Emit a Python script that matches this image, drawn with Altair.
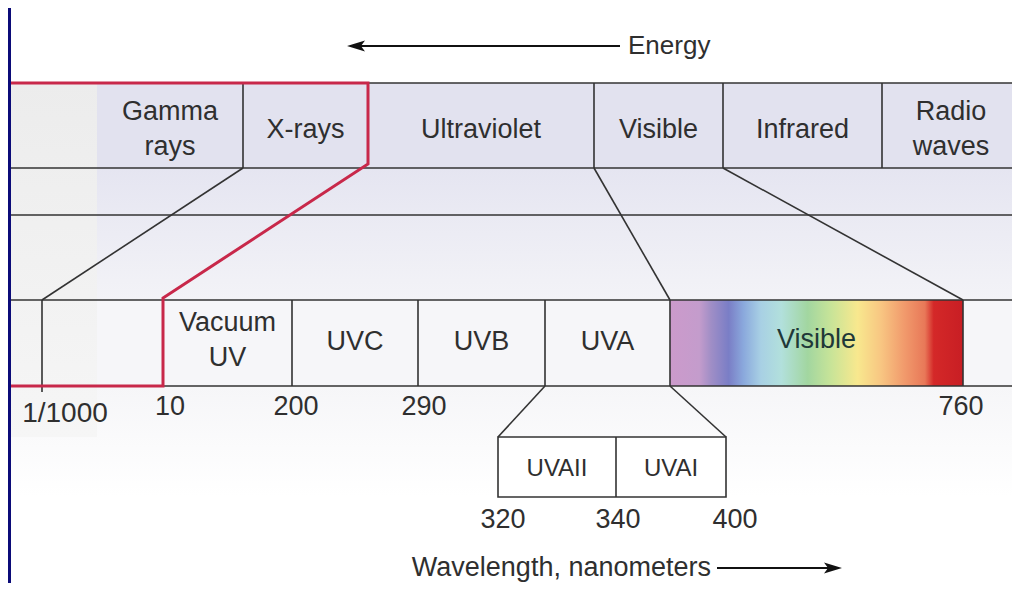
import altair as alt
import pandas as pd

FONT = "Liberation Sans"
INK = "#2f2f2f"
RED = "#c8284a"
LH = 35

# ---- Electromagnetic spectrum (top band), ordered by decreasing energy ----
em_labels = ["Gamma\nrays", "X-rays", "Ultraviolet", "Visible", "Infrared", "Radio\nwaves"]
em_edges = [97, 243, 368, 594, 723, 882, 1020]

# ---- Ultraviolet detail (middle band) ----
uv_labels = ["Vacuum\nUV", "UVC", "UVB", "UVA", "Visible"]
uv_edges = [163, 292, 418, 545, 670, 963]
uv_tick_labels = ["1/1000", "10", "200", "290", "760"]
uv_tick_edges = [42, 163, 292, 418, 963]
uv_tick_label_x = [65, 170, 296, 424, 961]

# ---- UVA detail (lower box) ----
uva_labels = ["UVAII", "UVAI"]
uva_edges = [498, 616, 726]
uva_tick_labels = ["320", "340", "400"]
uva_tick_label_x = [503, 618, 735]

# ---- visible spectrum colour stops ----
spec_offsets = [0.0, 0.10, 0.14, 0.20, 0.25, 0.31, 0.38, 0.47, 0.55, 0.64, 0.72, 0.80, 0.87, 0.90, 1.0]
spec_colors = ["#cc9acb", "#c49ccc", "#a08ec6", "#7a7ec6", "#8aa8dc", "#a8d0e4", "#b2e0dc",
               "#a2d6a0", "#c8e498", "#f8e88e", "#f8c682", "#f19a6c", "#e87858", "#d42828", "#c81e24"]

# ---- rows of the diagram (downwards) ----
LEFT, RIGHT = 11, 1020
EM_TOP, EM_BOT = 83, 168
REF_Y = 215
UV_TOP, UV_BOT = 300, 386
UVA_TOP, UVA_BOT = 437, 497
ENERGY_Y = 46
WAVE_Y = 568

W, H = 1004, 575
xs = alt.Scale(domain=[8, 8 + W], nice=False, zero=False)
ys = alt.Scale(domain=[8, 8 + H], nice=False, zero=False, reverse=True)


def X(f="x"):
    return alt.X(f, type="quantitative", scale=xs, axis=None)


def Y(f="y"):
    return alt.Y(f, type="quantitative", scale=ys, axis=None)


def rect(df, fill, **kw):
    return alt.Chart(df).mark_rect(fill=fill, **kw).encode(
        x=X("x"), x2="x2", y=Y("y"), y2="y2")


def vgrad(c1, c2):
    return alt.Gradient(gradient="linear", x1=0, y1=0, x2=0, y2=1,
                        stops=[alt.GradientStop(color=c1, offset=0),
                               alt.GradientStop(color=c2, offset=1)])


layers = []
# blue page stripe
layers.append(rect(pd.DataFrame([dict(x=8, x2=LEFT, y=8, y2=8 + H)]), "#0b0b78"))
# band backgrounds
layers.append(rect(pd.DataFrame([dict(x=em_edges[0], x2=RIGHT, y=EM_TOP, y2=EM_BOT)]), "#e2e2ef"))
layers.append(rect(pd.DataFrame([dict(x=em_edges[0], x2=RIGHT, y=EM_BOT, y2=UV_TOP)]),
                   vgrad("#e5e5f1", "#f3f3f7")))
layers.append(rect(pd.DataFrame([dict(x=em_edges[0], x2=RIGHT, y=UV_TOP, y2=UV_BOT)]), "#f6f6f9"))
layers.append(rect(pd.DataFrame([dict(x=LEFT, x2=RIGHT, y=UV_BOT, y2=UVA_BOT)]),
                   vgrad("#f6f6f8", "#ffffff")))
layers.append(rect(pd.DataFrame([dict(x=LEFT, x2=em_edges[0], y=EM_TOP, y2=UVA_TOP)]),
                   vgrad("#ececec", "#f6f6f6")))
# visible spectrum
spec_grad = alt.Gradient(gradient="linear", x1=0, y1=0, x2=1, y2=0,
                         stops=[alt.GradientStop(color=c, offset=o) for o, c in zip(spec_offsets, spec_colors)])
layers.append(rect(pd.DataFrame([dict(x=uv_edges[4], x2=uv_edges[5], y=UV_TOP, y2=UV_BOT)]), spec_grad))
# UVA box
layers.append(rect(pd.DataFrame([dict(x=uva_edges[0], x2=uva_edges[-1], y=UVA_TOP, y2=UVA_BOT)]),
                   "#ffffff", stroke="#333333", strokeWidth=1.6))

# ---- dark line segments derived from the band edges ----
segs = []
for yy, x0 in [(EM_TOP, em_edges[2]), (EM_BOT, LEFT), (REF_Y, LEFT), (UV_TOP, LEFT), (UV_BOT, uv_edges[0])]:
    segs.append(dict(x=x0, y=yy, x2=RIGHT, y2=yy))
for e in [em_edges[1], em_edges[3], em_edges[4], em_edges[5]]:
    segs.append(dict(x=e, y=EM_TOP, x2=e, y2=EM_BOT))
segs.append(dict(x=uv_tick_edges[0], y=UV_TOP, x2=uv_tick_edges[0], y2=UV_BOT + 6))
for e in uv_edges[1:]:
    segs.append(dict(x=e, y=UV_TOP, x2=e, y2=UV_BOT))
# connectors from the top band to the UV band
segs.append(dict(x=em_edges[1], y=EM_BOT, x2=uv_tick_edges[0], y2=UV_TOP))
segs.append(dict(x=em_edges[3], y=EM_BOT, x2=uv_edges[4], y2=UV_TOP))
segs.append(dict(x=em_edges[4], y=EM_BOT, x2=uv_edges[5], y2=UV_TOP))
# connectors from UVA to the UVA box
segs.append(dict(x=uv_edges[3], y=UV_BOT, x2=uva_edges[0], y2=UVA_TOP))
segs.append(dict(x=uv_edges[4], y=UV_BOT, x2=uva_edges[-1], y2=UVA_TOP))
segs.append(dict(x=uva_edges[1], y=UVA_TOP, x2=uva_edges[1], y2=UVA_BOT))
seg_df = pd.DataFrame(segs)
layers.append(alt.Chart(seg_df).mark_rule(color="#333333", strokeWidth=1.6).encode(
    x=X("x"), y=Y("y"), x2="x2", y2="y2"))

# ---- red outline (X-rays -> Vacuum UV zoom) ----
red_df = pd.DataFrame(dict(
    x=[LEFT, em_edges[2], em_edges[2], uv_edges[0], uv_edges[0], LEFT],
    y=[EM_TOP, EM_TOP, EM_BOT - 4, UV_TOP - 2, UV_BOT, UV_BOT],
    o=list(range(6))))
layers.append(alt.Chart(red_df).mark_line(color=RED, strokeWidth=3, strokeJoin="miter").encode(
    x=X("x"), y=Y("y"), order="o:Q"))

# ---- arrows ----
arrow_df = pd.DataFrame([dict(x=357, x2=620, y=ENERGY_Y), dict(x=717, x2=834, y=WAVE_Y)])
layers.append(alt.Chart(arrow_df).mark_rule(color="#111111", strokeWidth=2.2).encode(
    x=X("x"), x2="x2", y=Y("y")))
layers.append(alt.Chart(pd.DataFrame([dict(x=356, y=ENERGY_Y)])).mark_point(
    shape="M-1,0L1,-0.6L0.55,0L1,0.6Z", size=324, filled=True, color="#111111", opacity=1).encode(
    x=X("x"), y=Y("y")))
layers.append(alt.Chart(pd.DataFrame([dict(x=833, y=WAVE_Y)])).mark_point(
    shape="M1,0L-1,-0.6L-0.55,0L-1,0.6Z", size=324, filled=True, color="#111111", opacity=1).encode(
    x=X("x"), y=Y("y")))


# ---- text ----
def first_line_y(label, center):
    n = label.count("\n") + 1
    return center - (n - 1) * LH / 2


def texts(df, size=27, align="center", color=INK):
    return alt.Chart(df).mark_text(font=FONT, fontSize=size, color=color, align=align,
                                   baseline="middle", lineBreak="\n", lineHeight=LH).encode(
        x=X("x"), y=Y("y"), text="t:N")


em_c = (EM_TOP + EM_BOT) / 2 + 4
uv_c = (UV_TOP + UV_BOT) / 2 - 3
em_df = pd.DataFrame(dict(t=em_labels,
                          x=[(a + b) / 2 for a, b in zip(em_edges[:-1], em_edges[1:])],
                          y=[first_line_y(t, em_c) for t in em_labels]))
uv_df = pd.DataFrame(dict(t=uv_labels[:-1],
                          x=[(a + b) / 2 for a, b in zip(uv_edges[:-2], uv_edges[1:-1])],
                          y=[first_line_y(t, uv_c + (0 if "\n" in t else 2)) for t in uv_labels[:-1]]))
vis_df = pd.DataFrame(dict(t=uv_labels[-1:], x=[(uv_edges[4] + uv_edges[5]) / 2], y=[uv_c]))
uva_df = pd.DataFrame(dict(t=uva_labels,
                           x=[(a + b) / 2 for a, b in zip(uva_edges[:-1], uva_edges[1:])],
                           y=[(UVA_TOP + UVA_BOT) / 2 + 2] * 2))
tick_df = pd.DataFrame(dict(t=uv_tick_labels, x=uv_tick_label_x,
                            y=[414, 407, 407, 407, 407]))
uva_tick_df = pd.DataFrame(dict(t=uva_tick_labels, x=uva_tick_label_x, y=[520] * 3))

layers += [
    texts(em_df), texts(uv_df), texts(vis_df, color="#1f3838"), texts(uva_df, size=24),
    texts(tick_df.iloc[:1], size=28), texts(tick_df.iloc[1:]), texts(uva_tick_df),
    texts(pd.DataFrame([dict(t="Energy", x=628, y=ENERGY_Y)]), size=26, align="left"),
    texts(pd.DataFrame([dict(t="Wavelength, nanometers", x=711, y=WAVE_Y)]), align="right"),
]

chart = alt.layer(*layers).properties(
    width=W, height=H, padding=0, autosize="none", background="#ffffff"
).configure_view(stroke=None)

chart.save("out.html", embed_options={"renderer": "svg", "actions": False})
